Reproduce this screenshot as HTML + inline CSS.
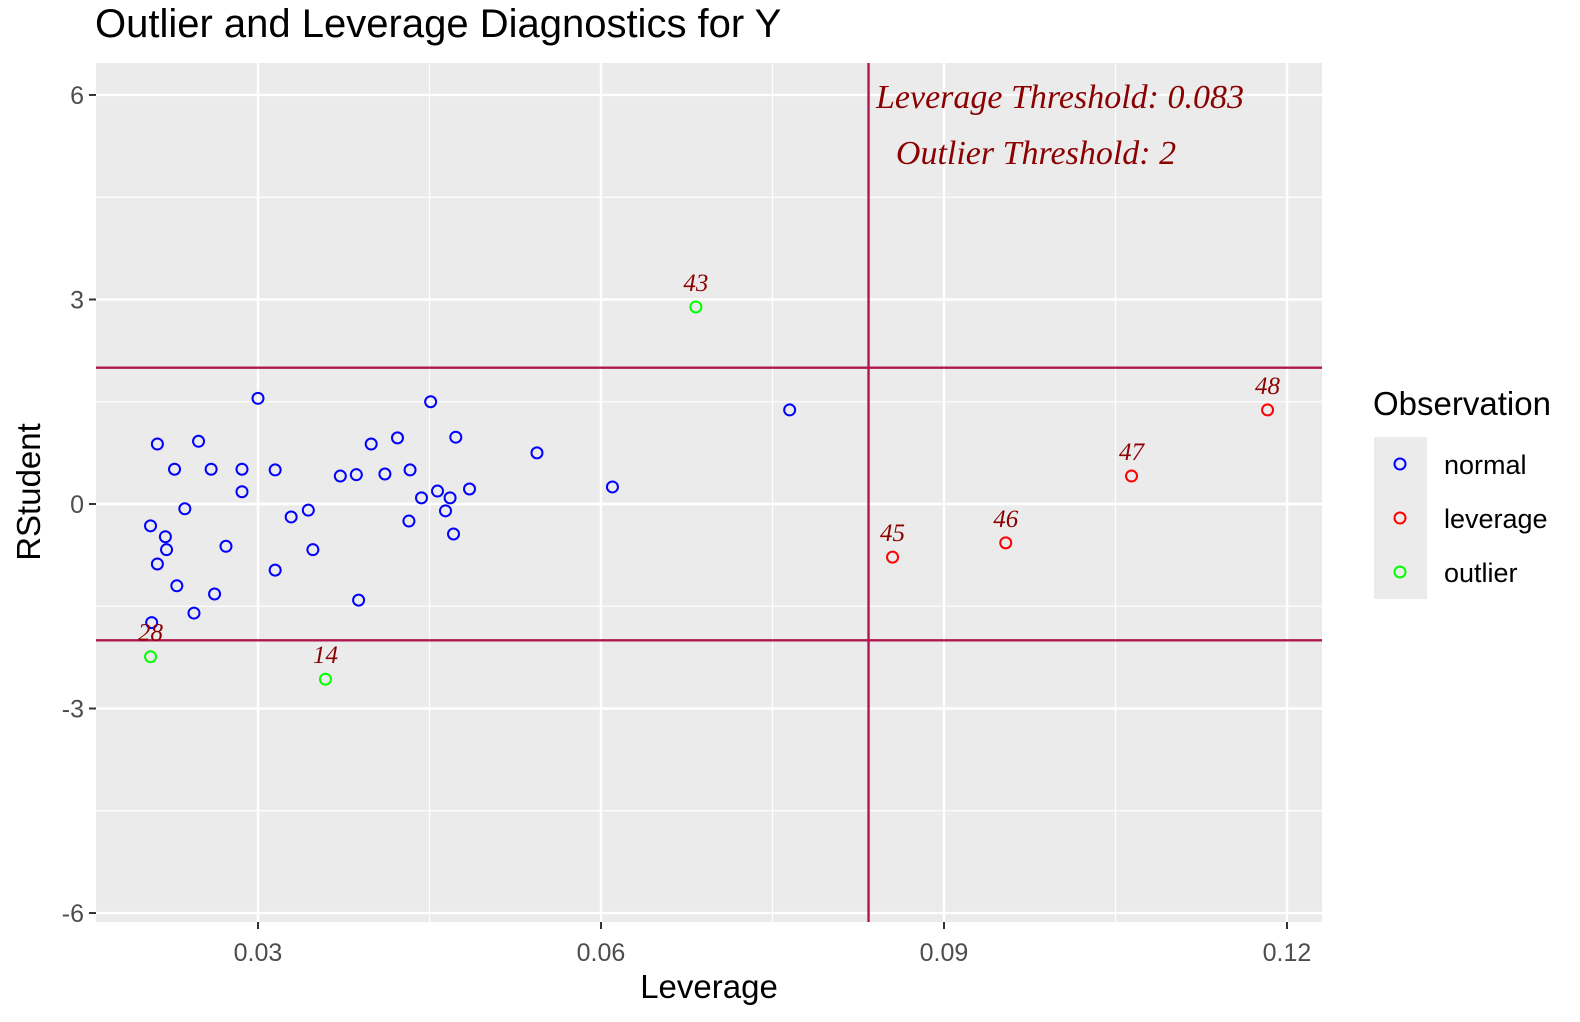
<!DOCTYPE html>
<html><head><meta charset="utf-8"><style>
body{margin:0;background:#fff;}
svg{display:block;font-family:"Liberation Sans",sans-serif;}
</style></head><body>
<svg id="chart" width="1580" height="1022">
<text x="95" y="37" font-size="40" fill="#000">Outlier and Leverage Diagnostics for Y</text>
<rect x="96" y="63" width="1226" height="859" fill="#ebebeb"/>
<g id="grid"></g><g id="marks"></g><g id="axes"></g>
<text x="709" y="998" font-size="33" text-anchor="middle">Leverage</text>
<text transform="translate(40,492) rotate(-90)" font-size="33" text-anchor="middle">RStudent</text>
<g>
<text x="1373" y="415" font-size="33">Observation</text>
<rect x="1374" y="437" width="53" height="162" fill="#ebebeb"/>
<circle cx="1400" cy="464" r="5.5" fill="none" stroke="#0000ff" stroke-width="2"/>
<circle cx="1400" cy="518" r="5.5" fill="none" stroke="#ff0000" stroke-width="2"/>
<circle cx="1400" cy="572" r="5.5" fill="none" stroke="#00ff00" stroke-width="2"/>
<text x="1444" y="474" font-size="27">normal</text>
<text x="1444" y="528" font-size="27">leverage</text>
<text x="1444" y="582" font-size="27">outlier</text>
</g>
</svg>
<script>
const normalX=[0.0206,0.0212,0.0212,0.0219,0.0220,0.0227,0.0229,0.0236,0.0244,0.0248,0.0259,0.0262,0.0272,0.0286,0.0286,0.0300,0.0315,0.0315,0.0329,0.0344,0.0348,0.0372,0.0386,0.0388,0.0399,0.0411,0.0422,0.0432,0.0433,0.0443,0.0451,0.0457,0.0464,0.0468,0.0471,0.0473,0.0485,0.0544,0.0610,0.0765,0.0207];
const normalY=[-0.32,0.88,-0.88,-0.48,-0.67,0.51,-1.20,-0.07,-1.60,0.92,0.51,-1.32,-0.62,0.51,0.18,1.55,0.50,-0.97,-0.19,-0.09,-0.67,0.41,0.43,-1.41,0.88,0.44,0.97,-0.25,0.50,0.09,1.50,0.19,-0.10,0.09,-0.44,0.98,0.22,0.75,0.25,1.38,-1.74];
const outlierX=[0.0206,0.0359,0.0683];
const outlierY=[-2.24,-2.57,2.89];
const outlierIds=["28","14","43"];
const leverageX=[0.0855,0.0954,0.1064,0.1183];
const leverageY=[-0.78,-0.57,0.41,1.38];
const leverageIds=["45","46","47","48"];
const xTicks=[0.03,0.06,0.09,0.12];
const xTickLabels=["0.03","0.06","0.09","0.12"];
const xMinor=[0.045,0.075,0.105];
const yTicks=[-6,-3,0,3,6];
const yTickLabels=["-6","-3","0","3","6"];
const yMinor=[-4.5,-1.5,1.5,4.5];
const levThreshold=0.0834;
const outThreshold=2;

const L=96,R=1322,T=63,B=922;
const sx=v=>258+(v-0.03)*11433.3;
const sy=v=>504-v*68.17;
const NS="http://www.w3.org/2000/svg";
function mk(tag,attrs,parent){const e=document.createElementNS(NS,tag);for(const k in attrs)e.setAttribute(k,attrs[k]);parent.appendChild(e);return e;}
const grid=document.getElementById('grid'),marks=document.getElementById('marks'),axes=document.getElementById('axes');
xMinor.forEach(v=>{const e=mk('line',{x1:sx(v),x2:sx(v),y1:T,y2:B,stroke:'#fff','stroke-width':1.2},grid);

});
yMinor.forEach(v=>{const e=mk('line',{x1:L,x2:R,y1:sy(v),y2:sy(v),stroke:'#fff','stroke-width':1.2},grid);

});
xTicks.forEach((v,i)=>{const e=mk('line',{x1:sx(v),x2:sx(v),y1:T,y2:B,stroke:'#fff','stroke-width':2.4},grid);


const t=mk('line',{x1:sx(v),x2:sx(v),y1:B,y2:B+7,stroke:'#333','stroke-width':2},axes);


const l=mk('text',{x:sx(v),y:B+39,'font-size':25,fill:'#4d4d4d','text-anchor':'middle'},axes);l.textContent=xTickLabels[i];

});
yTicks.forEach((v,i)=>{const e=mk('line',{x1:L,x2:R,y1:sy(v),y2:sy(v),stroke:'#fff','stroke-width':2.4},grid);


const t=mk('line',{x1:L-7,x2:L,y1:sy(v),y2:sy(v),stroke:'#333','stroke-width':2},axes);


const l=mk('text',{x:L-12,y:sy(v)+9,'font-size':25,fill:'#4d4d4d','text-anchor':'end'},axes);l.textContent=yTickLabels[i];

});
[outThreshold,-outThreshold].forEach(v=>{const e=mk('line',{x1:L,x2:R,y1:sy(v),y2:sy(v),stroke:'#b0164f','stroke-width':2.4},marks);

});
const vl=mk('line',{x1:sx(levThreshold),x2:sx(levThreshold),y1:T,y2:B,stroke:'#b0164f','stroke-width':2.4},marks);


function pts(xs,ys,col,name,ids){xs.forEach((x,i)=>{const c=mk('circle',{cx:sx(x),cy:sy(ys[i]),r:5.5,fill:'none',stroke:col,'stroke-width':2},marks);


if(ids){const t=mk('text',{x:sx(x),y:sy(ys[i])-16,'font-size':25,'font-style':'italic','font-family':'"Liberation Serif",serif',fill:'#8b0000','text-anchor':'middle'},marks);t.textContent=ids[i];

}});}
pts(normalX,normalY,'#0000ff','normal-point');
pts(leverageX,leverageY,'#ff0000','leverage-point',leverageIds);
pts(outlierX,outlierY,'#00ff00','outlier-point',outlierIds);
const a1=mk('text',{x:1060,y:108,'font-size':34,'font-style':'italic','font-family':'"Liberation Serif",serif',fill:'#8b0000','text-anchor':'middle'},marks);a1.textContent='Leverage Threshold: 0.083';


const a2=mk('text',{x:1036,y:164,'font-size':34,'font-style':'italic','font-family':'"Liberation Serif",serif',fill:'#8b0000','text-anchor':'middle'},marks);a2.textContent='Outlier Threshold: 2';


</script>
</body></html>
